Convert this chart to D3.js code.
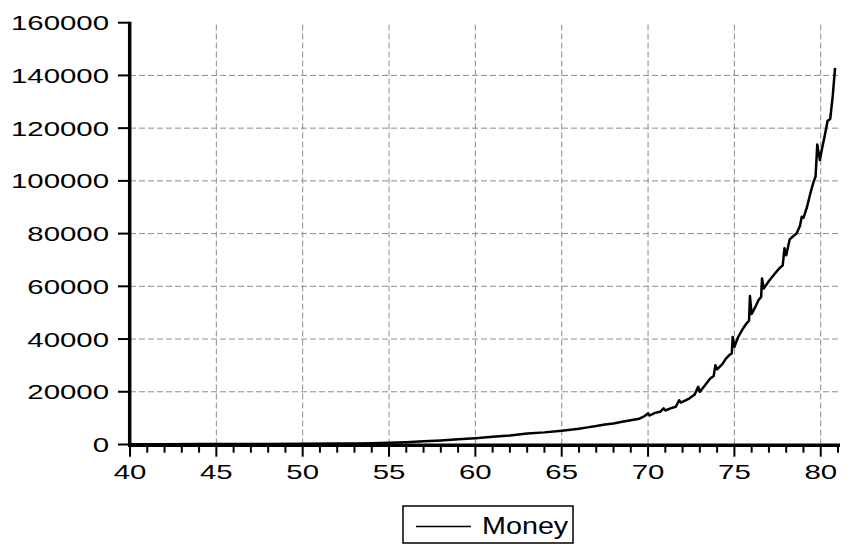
<!DOCTYPE html>
<html>
<head>
<meta charset="utf-8">
<script src="https://cdn.jsdelivr.net/npm/d3@7"></script>
<style>
  html, body { margin: 0; padding: 0; background: #fff; }
  svg { display: block; }
</style>
</head>
<body>
<svg id="chart" width="850" height="544"></svg>
<script>
// ---- data ----
const years = [40, 42, 44, 46, 48, 50, 52, 53, 54, 55, 56, 57, 58, 59, 60, 61, 62, 62.5, 63, 64, 65, 66, 66.5, 67, 67.5, 68, 68.5, 69, 69.5, 69.8, 70.0, 70.1, 70.4, 70.7, 70.9, 71.0, 71.3, 71.6, 71.7, 71.8, 71.9, 72.2, 72.4, 72.7, 72.9, 73.0, 73.3, 73.6, 73.8, 73.9, 74.0, 74.3, 74.5, 74.7, 74.85, 74.9, 75.0, 75.2, 75.5, 75.7, 75.85, 75.9, 76.0, 76.2, 76.4, 76.55, 76.6, 76.7, 77.0, 77.3, 77.6, 77.8, 77.9, 78.0, 78.2, 78.4, 78.6, 78.8, 78.9, 79.0, 79.2, 79.4, 79.6, 79.7, 79.8, 79.95, 80.1, 80.2, 80.4, 80.55, 80.7, 80.83];
const money = [100, 120, 150, 180, 220, 280, 350, 420, 500, 650, 900, 1200, 1550, 1950, 2400, 2900, 3400, 3800, 4150, 4600, 5200, 6000, 6500, 7000, 7600, 8000, 8600, 9200, 9800, 10800, 11800, 11000, 12000, 12400, 13700, 12900, 13700, 14300, 15500, 16800, 15900, 16800, 17500, 19000, 21900, 20000, 22500, 25000, 26000, 30100, 28500, 30500, 32500, 33900, 34500, 40800, 37000, 40500, 44000, 45900, 47000, 56300, 49500, 52000, 54800, 56000, 63000, 59200, 62000, 64500, 66800, 68000, 74400, 71800, 77800, 79000, 80000, 83000, 86400, 86000, 90000, 95300, 100000, 101600, 113800, 107900, 113000, 116100, 122800, 123500, 132500, 142900];
const xTickValues = [40, 45, 50, 55, 60, 65, 70, 75, 80];
const yTickValues = [0, 20000, 40000, 60000, 80000, 100000, 120000, 140000, 160000];
const seriesName = "Money";

// ---- layout ----
const svg = d3.select("#chart");
const x = d3.scaleLinear().domain([40, 81]).range([130, 838]);
const y = d3.scaleLinear().domain([0, 160000]).range([444.5, 22.7]);
const stretch = 1.4;

// grid
const grid = svg.append("g");
grid.selectAll("line.vg").data(xTickValues.filter(d => d !== 40)).enter().append("line")
  .attr("x1", d => x(d)).attr("x2", d => x(d))
  .attr("y1", y(0)).attr("y2", y(160000))
  .attr("stroke", "#8c8c8c").attr("stroke-width", 1).attr("stroke-dasharray", "6,3");
grid.selectAll("line.hg").data(yTickValues.filter(d => d !== 0 && d !== 160000)).enter().append("line")
  .attr("x1", x(40)).attr("x2", x(81))
  .attr("y1", d => y(d)).attr("y2", d => y(d))
  .attr("stroke", "#8c8c8c").attr("stroke-width", 1).attr("stroke-dasharray", "6,3");

// line
const line = d3.line().x((d, i) => x(years[i])).y((d, i) => y(money[i]));
svg.append("path").datum(money).attr("d", line)
  .attr("fill", "none").attr("stroke", "#000").attr("stroke-width", 2.5)
  .attr("stroke-linejoin", "round");

// y axis
svg.append("line").attr("x1", 129.7).attr("x2", 129.7).attr("y1", y(160000) - 1).attr("y2", y(0) + 2)
  .attr("stroke", "#000").attr("stroke-width", 3.5);
svg.selectAll("line.yt").data(yTickValues).enter().append("line")
  .attr("x1", 118).attr("x2", 129).attr("y1", d => y(d)).attr("y2", d => y(d))
  .attr("stroke", "#000").attr("stroke-width", 2);
svg.selectAll("g.yl").data(yTickValues).enter().append("g")
  .attr("transform", d => `translate(109,${y(d)}) scale(${stretch},1)`)
  .append("text").attr("text-anchor", "end").attr("dy", "0.36em")
  .attr("font-family", "Liberation Sans, Arial, sans-serif").attr("font-size", 21)
  .text(d => d);

// x axis
svg.append("line").attr("x1", 128).attr("x2", x(81) + 2).attr("y1", 445.3).attr("y2", 445.3)
  .attr("stroke", "#000").attr("stroke-width", 3.5);
const minor = d3.range(40, 82);
svg.selectAll("line.xt").data(minor).enter().append("line")
  .attr("x1", d => x(d)).attr("x2", d => x(d))
  .attr("y1", 445).attr("y2", d => d % 5 === 0 ? 456.7 : 452.7)
  .attr("stroke", "#000").attr("stroke-width", 2);
svg.selectAll("g.xl").data(xTickValues).enter().append("g")
  .attr("transform", d => `translate(${x(d)},479) scale(${stretch},1)`)
  .append("text").attr("text-anchor", "middle")
  .attr("font-family", "Liberation Sans, Arial, sans-serif").attr("font-size", 21)
  .text(d => d);

// legend
const lg = svg.append("g");
lg.append("rect").attr("x", 403).attr("y", 506).attr("width", 170).attr("height", 37)
  .attr("fill", "#fff").attr("stroke", "#000").attr("stroke-width", 1.5);
lg.append("line").attr("x1", 416).attr("x2", 471).attr("y1", 526.5).attr("y2", 526.5)
  .attr("stroke", "#000").attr("stroke-width", 1.5);
lg.append("g").attr("transform", `translate(482,534) scale(1.25,1)`)
  .append("text").attr("font-family", "Liberation Sans, Arial, sans-serif").attr("font-size", 23)
  .text(seriesName);
</script>
</body>
</html>
